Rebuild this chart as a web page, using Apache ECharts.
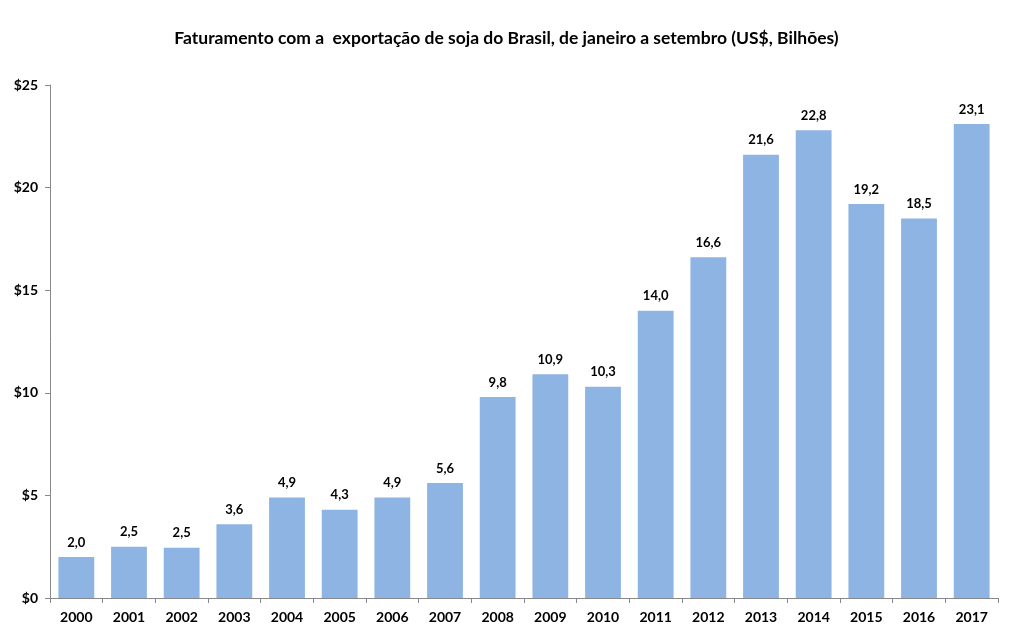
<!DOCTYPE html>
<html><head><meta charset="utf-8">
<script src="https://cdn.jsdelivr.net/npm/echarts@6/dist/echarts.min.js"></script>
<style>html,body{margin:0;padding:0;background:#fff}#c{width:1013px;height:632px}</style>
</head><body><div id="c"></div>
<script>
const years = ['2000','2001','2002','2003','2004','2005','2006','2007','2008','2009','2010','2011','2012','2013','2014','2015','2016','2017'];
const values = [2.0, 2.5, 2.45, 3.6, 4.9, 4.3, 4.9, 5.6, 9.8, 10.9, 10.3, 14.0, 16.6, 21.6, 22.8, 19.2, 18.5, 23.1];
const labels = ['2,0','2,5','2,5','3,6','4,9','4,3','4,9','5,6','9,8','10,9','10,3','14,0','16,6','21,6','22,8','19,2','18,5','23,1'];
const titleText = 'Faturamento com a  exportação de soja do Brasil, de janeiro a setembro (US$, Bilhões)';
const font = 'Lato, "Noto Sans", sans-serif';
const chart = echarts.init(document.getElementById('c'));
chart.setOption({
  animation: false,
  title: { text: titleText, left: 'center', top: 24, textStyle: { fontFamily: font, fontSize: 17.5, fontWeight: 'bold', color: '#000' } },
  grid: { left: 50, right: 15, top: 85, bottom: 34, containLabel: false },
  xAxis: {
    type: 'category', data: years,
    axisLine: { lineStyle: { color: '#888', width: 1 } },
    axisTick: { show: true, length: 5, lineStyle: { color: '#888' } },
    axisLabel: { fontFamily: font, fontSize: 14, fontWeight: 'bold', color: '#000', margin: 12 }
  },
  yAxis: {
    type: 'value', min: 0, max: 25, interval: 5,
    axisLine: { show: true, lineStyle: { color: '#888', width: 1 } },
    axisTick: { show: true, length: 5, lineStyle: { color: '#888' } },
    splitLine: { show: false },
    axisLabel: { fontFamily: font, fontSize: 14, fontWeight: 'bold', color: '#000', margin: 12, formatter: v => '$' + v }
  },
  series: [{
    type: 'bar', data: values, barWidth: '68%',
    itemStyle: { color: '#8EB4E3' },
    label: { show: true, position: 'top', distance: 8, fontFamily: font, fontSize: 13, fontWeight: 'bold', color: '#000',
      formatter: p => labels[p.dataIndex] }
  }]
});
</script></body></html>
